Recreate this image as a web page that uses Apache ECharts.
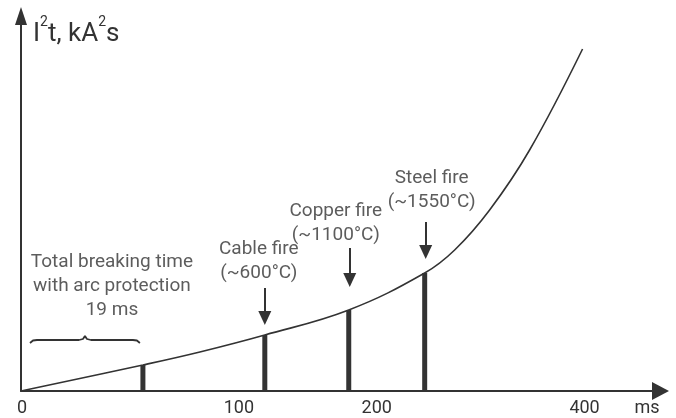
<!DOCTYPE html>
<html>
<head>
<meta charset="utf-8">
<script src="https://cdn.jsdelivr.net/npm/echarts@6/dist/echarts.min.js"></script>
<style>html,body{margin:0;padding:0;background:#fff}#c{width:676px;height:418px}</style>
</head>
<body>
<div id="c"></div>
<script>
// Schematic chart units (the original figure is not drawn to scale)
var tickValues = [1, 218, 356, 564];
var tickLabels = ['0', '100', '200', '400'];

// I²t curve
var curveX = [0, 122, 179, 244, 328, 404, 434, 469, 509, 562];
var curveY = [0, 26, 39, 56, 81, 118, 141, 181, 241, 342];

// vertical bars (breaking times)
var barX = [122, 244, 328, 404];
var barY = [26, 56, 81, 118];

// annotation texts and their anchors
var noteText = [
  'Total breaking time\nwith arc protection\n19 ms',
  'Cable fire\n(~600°C)',
  'Copper fire\n(~1100°C)',
  'Steel fire\n(~1550°C)'
];
var noteX = [91, 238, 315, 411];
var noteY = [105, 130, 168, 201];

// pointer arrows: x, start y, end y
var arrowX = [244, 329, 405];
var arrowFrom = [103, 143, 169];
var arrowTo = [73, 111, 139];

// brace over "19 ms"
var braceX = [9, 12, 16, 58, 62, 64, 66, 70, 112, 116, 119];
var braceY = [48, 50.5, 51, 51, 52, 55, 52, 51, 51, 50.5, 48];

var ink = '#333';
var font = 'Roboto, "DejaVu Sans", sans-serif';

function zip(a, b) { return a.map(function (v, i) { return [v, b[i]]; }); }

var chart = echarts.init(document.getElementById('c'), null, {renderer: 'canvas'});
chart.setOption({
  animation: false,
  grid: {left: 21, right: 15.5, top: 16, bottom: 27, containLabel: false, outerBoundsMode: 'none'},
  xAxis: {
    type: 'value', min: 0, max: 640,
    splitLine: {show: false},
    axisTick: {show: false},
    axisLine: {show: true, onZero: false, symbol: ['none', 'triangle'], symbolSize: [18, 17],
      lineStyle: {color: ink, width: 2}},
    axisLabel: {
      customValues: tickValues,
      formatter: function (v) { var i = tickValues.indexOf(v); return i >= 0 ? tickLabels[i] : ''; },
      color: ink, fontFamily: font, fontSize: 18, margin: 8
    },
    name: 'ms', nameLocation: 'end', nameGap: -13.5,
    nameTextStyle: {color: ink, fontFamily: font, fontSize: 18, align: 'center', verticalAlign: 'top', padding: [8, 0, 0, 0]}
  },
  yAxis: {
    type: 'value', min: 0, max: 375,
    splitLine: {show: false},
    axisTick: {show: false},
    axisLabel: {show: false},
    axisLine: {show: true, onZero: false, symbol: ['none', 'triangle'], symbolSize: [12, 18],
      lineStyle: {color: ink, width: 2}},
    name: '{m|I}{sup|2}{m|t, kA}{sup|2}{m|s}', nameLocation: 'end', nameGap: -15,
    nameTextStyle: {color: ink, fontFamily: font, fontSize: 26, align: 'left', verticalAlign: 'middle',
      padding: [0, 0, 0, 12],
      rich: {
        m: {fontSize: 26, color: ink, fontFamily: font, lineHeight: 32, verticalAlign: 'bottom'},
        sup: {fontSize: 14, color: ink, fontFamily: font, verticalAlign: 'top', lineHeight: 14}
      }}
  },
  series: [
    {
      type: 'line', data: zip(curveX, curveY), smooth: 0.4, symbol: 'none',
      lineStyle: {color: ink, width: 1.6}, z: 3,
      markLine: {
        silent: true, symbol: ['none', 'triangle'], symbolSize: [13, 14],
        lineStyle: {color: ink, width: 2, type: 'solid'},
        label: {show: false},
        data: arrowX.map(function (x, i) { return [{coord: [x, arrowFrom[i]]}, {coord: [x, arrowTo[i]]}]; })
      }
    },
    {
      type: 'bar', data: zip(barX, barY), barWidth: 5,
      itemStyle: {color: ink}, z: 2
    },
    {
      type: 'line', data: zip(braceX, braceY), symbol: 'none',
      lineStyle: {color: ink, width: 1.8}
    },
    {
      type: 'scatter', symbolSize: 0,
      data: noteText.map(function (t, i) { return {value: [noteX[i], noteY[i]], label: {formatter: t}}; }),
      label: {show: true, position: 'inside', align: 'center', verticalAlign: 'middle',
        color: ink, fontFamily: font, fontSize: 19, lineHeight: 24}
    }
  ]
});
</script>
</body>
</html>
